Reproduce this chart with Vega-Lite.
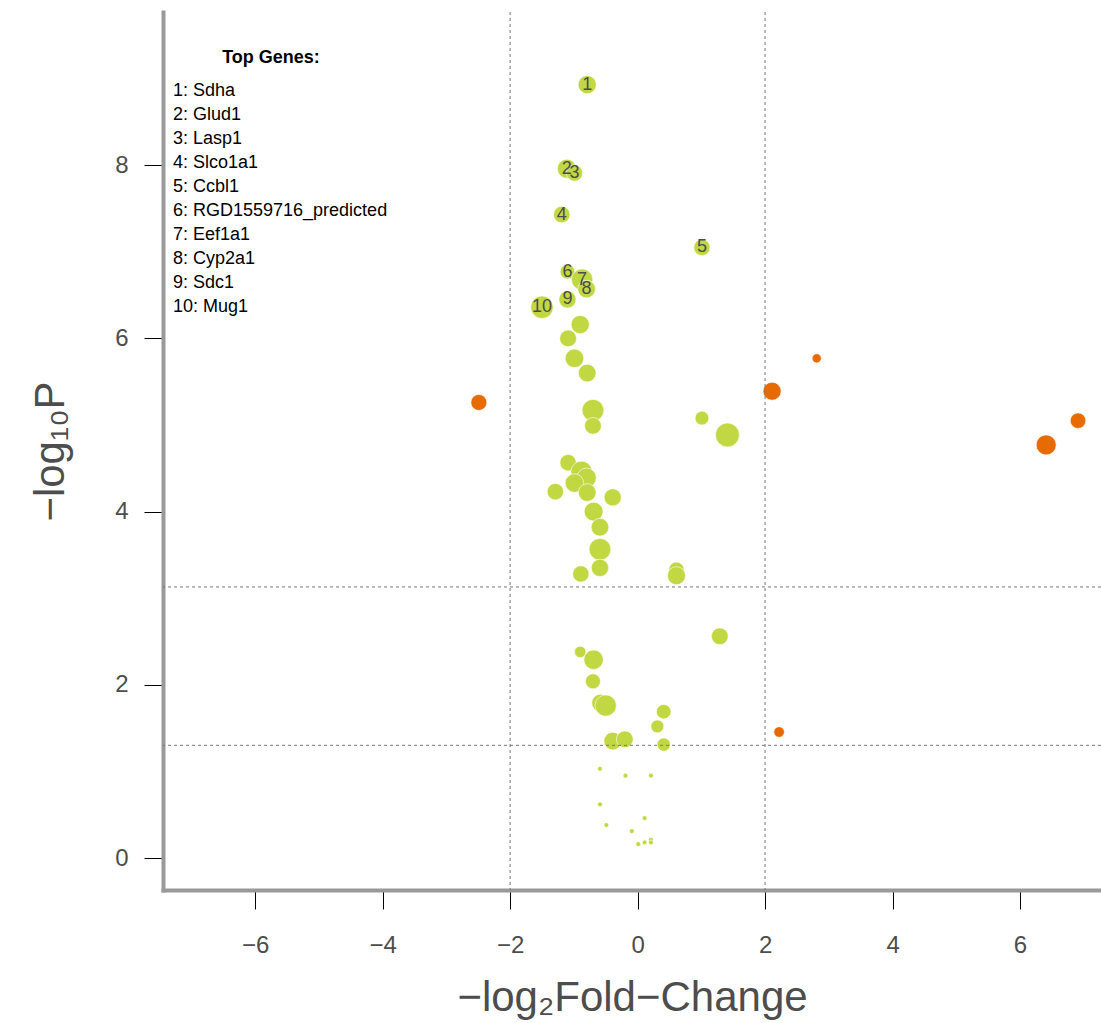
{
  "$schema": "https://vega.github.io/schema/vega-lite/v6.json",
  "width": 938,
  "height": 878,
  "autosize": {"type": "none"},
  "padding": {"left": 163, "top": 12, "right": 0, "bottom": 133},
  "config": {
    "font": "Liberation Sans",
    "view": {"stroke": null},
    "axis": {"grid": false}
  },
  "datasets": {
    "genes": [
      {"fc": -0.79, "p": 8.93, "w": 106, "status": "ns", "rank": 1, "gene": "Sdha", "entry": "1: Sdha"},
      {"fc": -1.11, "p": 7.96, "w": 115, "status": "ns", "rank": 2, "gene": "Glud1", "entry": "2: Glud1"},
      {"fc": -0.99, "p": 7.91, "w": 85, "status": "ns", "rank": 3, "gene": "Lasp1", "entry": "3: Lasp1"},
      {"fc": -1.19, "p": 7.43, "w": 87, "status": "ns", "rank": 4, "gene": "Slco1a1", "entry": "4: Slco1a1"},
      {"fc": 1.01, "p": 7.05, "w": 85, "status": "ns", "rank": 5, "gene": "Ccbl1", "entry": "5: Ccbl1"},
      {"fc": -1.10, "p": 6.77, "w": 69, "status": "ns", "rank": 6, "gene": "RGD1559716_predicted", "entry": "6: RGD1559716_predicted"},
      {"fc": -0.87, "p": 6.68, "w": 144, "status": "ns", "rank": 7, "gene": "Eef1a1", "entry": "7: Eef1a1"},
      {"fc": -0.80, "p": 6.57, "w": 100, "status": "ns", "rank": 8, "gene": "Cyp2a1", "entry": "8: Cyp2a1"},
      {"fc": -1.10, "p": 6.45, "w": 94, "status": "ns", "rank": 9, "gene": "Sdc1", "entry": "9: Sdc1"},
      {"fc": -1.50, "p": 6.36, "w": 161, "status": "ns", "rank": 10, "gene": "Mug1", "entry": "10: Mug1"},
      {"fc": -0.90, "p": 6.16, "w": 106, "status": "ns"},
      {"fc": -1.09, "p": 6.00, "w": 90, "status": "ns"},
      {"fc": -0.99, "p": 5.77, "w": 110, "status": "ns"},
      {"fc": -0.79, "p": 5.60, "w": 100, "status": "ns"},
      {"fc": -0.70, "p": 5.17, "w": 151, "status": "ns"},
      {"fc": -0.70, "p": 4.99, "w": 90, "status": "ns"},
      {"fc": 1.01, "p": 5.08, "w": 61, "status": "ns"},
      {"fc": 1.41, "p": 4.885, "w": 182, "status": "ns"},
      {"fc": -1.09, "p": 4.565, "w": 86, "status": "ns"},
      {"fc": -0.88, "p": 4.46, "w": 144, "status": "ns"},
      {"fc": -0.80, "p": 4.39, "w": 121, "status": "ns"},
      {"fc": -0.99, "p": 4.33, "w": 110, "status": "ns"},
      {"fc": -1.29, "p": 4.23, "w": 86, "status": "ns"},
      {"fc": -0.79, "p": 4.22, "w": 100, "status": "ns"},
      {"fc": -0.39, "p": 4.165, "w": 94, "status": "ns"},
      {"fc": -0.69, "p": 4.00, "w": 114, "status": "ns"},
      {"fc": -0.59, "p": 3.82, "w": 100, "status": "ns"},
      {"fc": -0.59, "p": 3.565, "w": 151, "status": "ns"},
      {"fc": -0.59, "p": 3.35, "w": 96, "status": "ns"},
      {"fc": -0.89, "p": 3.28, "w": 85, "status": "ns"},
      {"fc": 0.61, "p": 3.33, "w": 72, "status": "ns"},
      {"fc": 0.61, "p": 3.26, "w": 104, "status": "ns"},
      {"fc": -2.49, "p": 5.26, "w": 81, "status": "sig"},
      {"fc": 2.11, "p": 5.39, "w": 104, "status": "sig"},
      {"fc": 2.81, "p": 5.77, "w": 27, "status": "sig"},
      {"fc": 6.41, "p": 4.77, "w": 128, "status": "sig"},
      {"fc": 6.91, "p": 5.05, "w": 77, "status": "sig"},
      {"fc": 2.22, "p": 1.455, "w": 36, "status": "sig"},
      {"fc": 1.29, "p": 2.56, "w": 90, "status": "ns"},
      {"fc": -0.90, "p": 2.38, "w": 42, "status": "ns"},
      {"fc": -0.69, "p": 2.29, "w": 121, "status": "ns"},
      {"fc": -0.70, "p": 2.04, "w": 72, "status": "ns"},
      {"fc": -0.58, "p": 1.79, "w": 100, "status": "ns"},
      {"fc": -0.50, "p": 1.76, "w": 144, "status": "ns"},
      {"fc": 0.41, "p": 1.69, "w": 67, "status": "ns"},
      {"fc": 0.31, "p": 1.52, "w": 53, "status": "ns"},
      {"fc": -0.39, "p": 1.35, "w": 100, "status": "ns"},
      {"fc": -0.20, "p": 1.37, "w": 90, "status": "ns"},
      {"fc": 0.41, "p": 1.31, "w": 56, "status": "ns"},
      {"fc": -0.59, "p": 1.03, "w": 7.3, "status": "ns"},
      {"fc": -0.19, "p": 0.95, "w": 7.3, "status": "ns"},
      {"fc": 0.21, "p": 0.95, "w": 7.3, "status": "ns"},
      {"fc": -0.59, "p": 0.62, "w": 7.3, "status": "ns"},
      {"fc": -0.49, "p": 0.38, "w": 7.3, "status": "ns"},
      {"fc": 0.11, "p": 0.46, "w": 7.3, "status": "ns"},
      {"fc": -0.09, "p": 0.31, "w": 7.3, "status": "ns"},
      {"fc": 0.01, "p": 0.16, "w": 7.3, "status": "ns"},
      {"fc": 0.11, "p": 0.18, "w": 7.3, "status": "ns"},
      {"fc": 0.21, "p": 0.21, "w": 7.3, "status": "ns"},
      {"fc": 0.21, "p": 0.18, "w": 7.3, "status": "ns"}
    ],
    "vlines": [{"fc": -2}, {"fc": 2}],
    "hlines": [{"p": 1.301}, {"p": 3.13}]
  },
  "layer": [
    {
      "data": {"name": "genes"},
      "mark": {"type": "circle", "opacity": 1, "stroke": "white", "strokeWidth": 0.6},
      "encoding": {
        "x": {
          "field": "fc", "type": "quantitative",
          "scale": {"domain": [-7.445, 7.27], "nice": false, "zero": false},
          "axis": {
            "title": "−log₂Fold−Change",
            "values": [-6, -4, -2, 0, 2, 4, 6], "format": "d",
            "domainColor": "#999999", "domainWidth": 4, "domainCap": "square",
            "tickColor": "black", "tickWidth": 1, "tickSize": 19,
            "labelFontSize": 24, "labelColor": "#4D4D4D", "labelPadding": 24,
            "titleFontSize": 42, "titleFontWeight": "normal", "titleColor": "#4D4D4D", "titlePadding": 20
          }
        },
        "y": {
          "field": "p", "type": "quantitative",
          "scale": {"domain": [-0.3695, 9.769], "nice": false, "zero": false},
          "axis": {
            "title": "−log₁₀P",
            "values": [0, 2, 4, 6, 8], "format": "d",
            "domainColor": "#999999", "domainWidth": 4, "domainCap": "square",
            "tickColor": "black", "tickWidth": 1, "tickSize": 19,
            "labelFontSize": 24, "labelColor": "#4D4D4D", "labelPadding": 16, "labelAngle": 0,
            "titleFontSize": 42, "titleFontWeight": "normal", "titleColor": "#4D4D4D", "titlePadding": 42
          }
        },
        "size": {
          "field": "w", "type": "quantitative",
          "scale": {"domain": [0, 100], "range": [0, 314], "zero": true},
          "legend": null
        },
        "color": {
          "field": "status", "type": "nominal",
          "scale": {"domain": ["sig", "ns"], "range": ["#E66B02", "#C1D842"]},
          "legend": null
        }
      }
    },
    {
      "data": {"name": "genes"},
      "transform": [{"filter": "isValid(datum.rank)"}],
      "mark": {"type": "point", "opacity": 0},
      "encoding": {
        "x": {"field": "fc", "type": "quantitative"},
        "y": {"field": "p", "type": "quantitative"},
        "shape": {
          "field": "entry", "type": "nominal",
          "sort": {"field": "rank", "op": "min", "order": "ascending"},
          "legend": {
            "orient": "none", "legendX": -8, "legendY": 37,
            "title": "Top Genes:", "titleFontSize": 18, "titleFontWeight": "bold",
            "titleColor": "black", "titleAnchor": "middle", "titlePadding": 15,
            "labelFontSize": 18, "labelColor": "black", "labelOffset": 0,
            "symbolSize": 0, "symbolOpacity": 0, "symbolStrokeWidth": 0,
            "rowPadding": 6, "padding": 0, "labelLimit": 400
          }
        }
      }
    },
    {
      "data": {"name": "vlines"},
      "mark": {"type": "rule", "color": "#777777", "strokeWidth": 1, "strokeDash": [3, 3]},
      "encoding": {"x": {"field": "fc", "type": "quantitative"}}
    },
    {
      "data": {"name": "hlines"},
      "mark": {"type": "rule", "color": "#777777", "strokeWidth": 1, "strokeDash": [3, 3]},
      "encoding": {"y": {"field": "p", "type": "quantitative"}}
    },
    {
      "mark": {"type": "rule", "color": "#999999", "strokeWidth": 4, "strokeCap": "square"},
      "encoding": {"y": {"datum": 9.769, "type": "quantitative"}}
    },
    {
      "data": {"name": "genes"},
      "transform": [{"filter": "isValid(datum.rank)"}],
      "mark": {"type": "text", "fontSize": 18, "color": "#4D4D4D", "align": "center", "baseline": "middle"},
      "encoding": {
        "x": {"field": "fc", "type": "quantitative"},
        "y": {"field": "p", "type": "quantitative"},
        "text": {"field": "rank", "type": "nominal"}
      }
    }
  ]
}
